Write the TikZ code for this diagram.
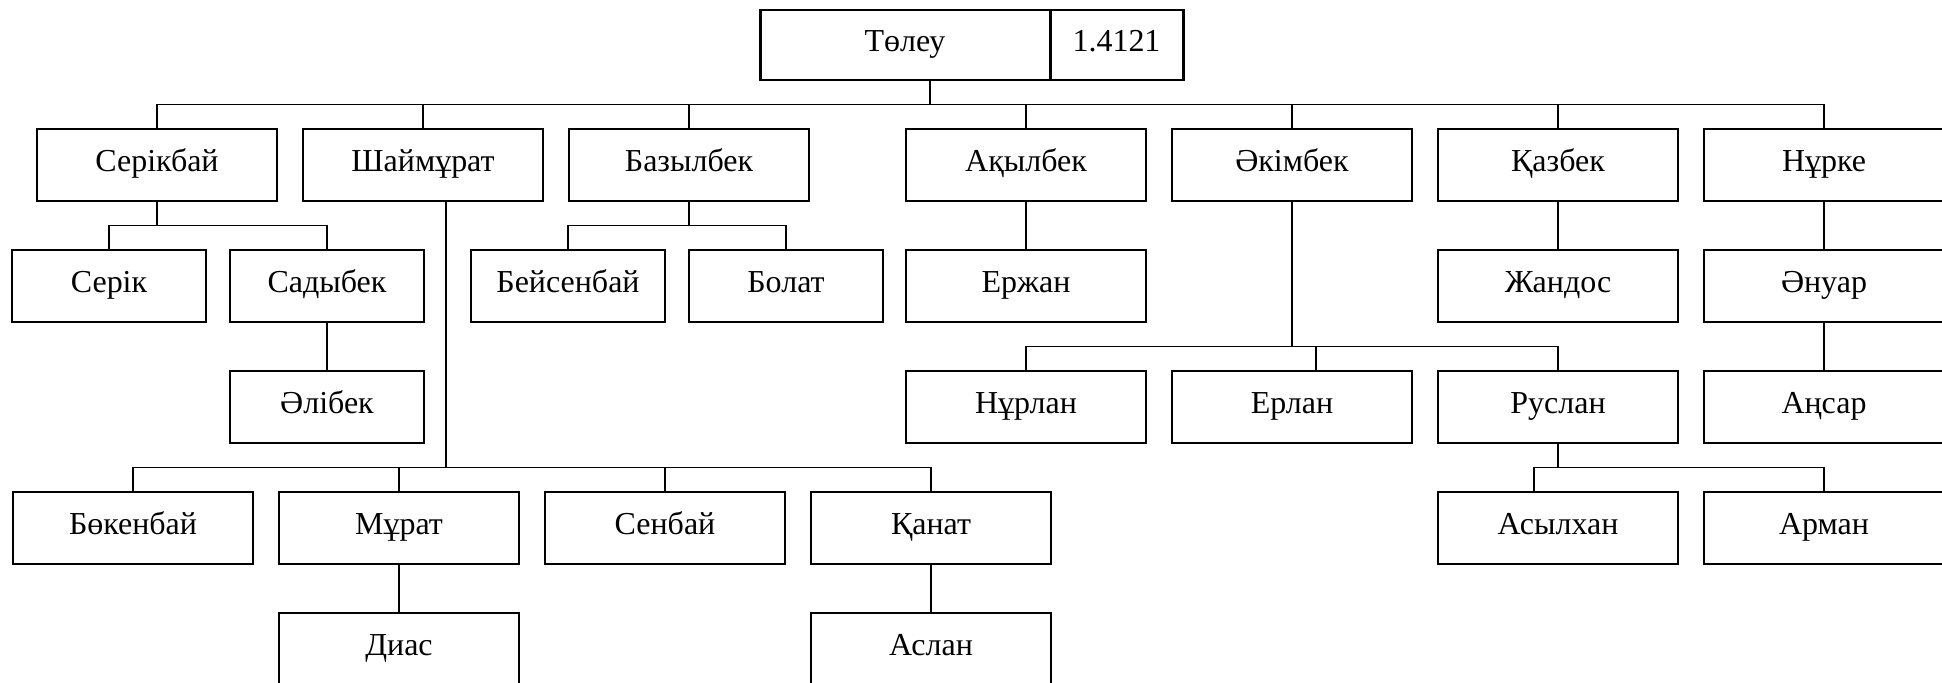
\documentclass[tikz,border=0pt]{standalone}
\usepackage{fontspec}
\setmainfont{Liberation Serif}
\usetikzlibrary{positioning}
\tikzset{
  pbox/.style={rectangle,draw,line width=0.8pt,minimum width=#1,minimum height=1.44cm,
               inner sep=0pt,outer sep=0pt,text height=1.5ex,text depth=0ex,
               font=\fontsize{18.2}{22}\selectfont},
  pbox/.default=4.8cm,
  rbox/.style={rectangle,draw,line width=1.7pt,minimum width=#1,minimum height=1.4cm,
               inner sep=0pt,outer sep=0pt,text height=1.5ex,text depth=0ex,
               font=\fontsize{18.2}{22}\selectfont},
  rbox/.default=5.8cm,
  link/.style={line width=0.8pt},
}

\begin{document}
\begin{tikzpicture}[node distance=0.98cm and 0.52cm]
    \useasboundingbox (0,0) rectangle (38.84,-13.66);

    % root
    \node[rbox] (toleu) at (18.1,-0.9) {Төлеу};
    \node[rbox=2.66cm, right=0pt of toleu] (num) {1.4121};

    % first row
    \node[pbox] (serikbai) at (3.14,-3.3) {Серікбай};
    \node[pbox, right=of serikbai] (shaimurat) {Шаймұрат};
    \node[pbox, right=of shaimurat] (bazylbek) {Базылбек};
    \node[pbox, right=1.94cm of bazylbek] (akylbek) {Ақылбек};
    \node[pbox, right=of akylbek] (akimbek) {Әкімбек};
    \node[pbox, right=of akimbek] (kazbek) {Қазбек};
    \node[pbox, right=of kazbek] (nurke) {Нұрке};

    % second row
    \node[pbox=3.88cm, below=of serikbai, xshift=-0.96cm] (serik) {Серік};
    \node[pbox=3.88cm, right=0.48cm of serik] (sadybek) {Садыбек};
    \node[pbox=3.88cm, below=of bazylbek, xshift=-2.42cm] (beisenbai) {Бейсенбай};
    \node[pbox=3.88cm, right=0.48cm of beisenbai] (bolat) {Болат};
    \node[pbox, below=of akylbek] (erzhan) {Ержан};
    \node[pbox, below=of kazbek] (zhandos) {Жандос};
    \node[pbox, below=of nurke] (anuar) {Әнуар};

    % third row
    \node[pbox=3.88cm, below=of sadybek] (alibek) {Әлібек};
    \node[pbox, below=of erzhan] (nurlan) {Нұрлан};
    \node[pbox, right=of nurlan] (erlan) {Ерлан};
    \node[pbox, right=of erlan] (ruslan) {Руслан};
    \node[pbox, below=of anuar] (ansar) {Аңсар};

    % fourth row
    \node[pbox] (bokenbai) at (2.66,-10.56) {Бөкенбай};
    \node[pbox, right=of bokenbai] (murat) {Мұрат};
    \node[pbox, right=of murat] (senbai) {Сенбай};
    \node[pbox, right=of senbai] (kanat) {Қанат};
    \node[pbox, below=of ruslan] (asylkhan) {Асылхан};
    \node[pbox, below=of ansar] (arman) {Арман};

    % fifth row
    \node[pbox, below=of murat] (dias) {Диас};
    \node[pbox, below=of kanat] (aslan) {Аслан};

    % links
    \draw[link] ([xshift=0.5cm]toleu.south) |- ([yshift=0.49cm]serikbai.north) -- (serikbai.north);
    \draw[link] ([xshift=0.5cm]toleu.south) |- ([yshift=0.49cm]shaimurat.north) -- (shaimurat.north);
    \draw[link] ([xshift=0.5cm]toleu.south) |- ([yshift=0.49cm]bazylbek.north) -- (bazylbek.north);
    \draw[link] ([xshift=0.5cm]toleu.south) |- ([yshift=0.49cm]akylbek.north) -- (akylbek.north);
    \draw[link] ([xshift=0.5cm]toleu.south) |- ([yshift=0.49cm]akimbek.north) -- (akimbek.north);
    \draw[link] ([xshift=0.5cm]toleu.south) |- ([yshift=0.49cm]kazbek.north) -- (kazbek.north);
    \draw[link] ([xshift=0.5cm]toleu.south) |- ([yshift=0.49cm]nurke.north) -- (nurke.north);

    \draw[link] (serikbai.south) |- ([yshift=0.49cm]serik.north) -- (serik.north);
    \draw[link] (serikbai.south) |- ([yshift=0.49cm]sadybek.north) -- (sadybek.north);
    \draw[link] (sadybek) -- (alibek);
    \draw[link] (bazylbek.south) |- ([yshift=0.49cm]beisenbai.north) -- (beisenbai.north);
    \draw[link] (bazylbek.south) |- ([yshift=0.49cm]bolat.north) -- (bolat.north);
    \draw[link] (akylbek) -- (erzhan);
    \draw[link] (kazbek) -- (zhandos);
    \draw[link] (nurke) -- (anuar);
    \draw[link] (anuar) -- (ansar);

    \draw[link] (akimbek.south) |- ([yshift=0.49cm]nurlan.north) -- (nurlan.north);
    \draw[link] (akimbek.south) |- ([xshift=0.48cm,yshift=0.49cm]erlan.north) -- ([xshift=0.48cm]erlan.north);
    \draw[link] (akimbek.south) |- ([yshift=0.49cm]ruslan.north) -- (ruslan.north);
    \draw[link] (ruslan.south) |- ([xshift=-0.48cm,yshift=0.49cm]asylkhan.north) -- ([xshift=-0.48cm]asylkhan.north);
    \draw[link] (ruslan.south) |- ([yshift=0.49cm]arman.north) -- (arman.north);

    \draw[link] ([xshift=0.46cm]shaimurat.south) |- ([yshift=0.49cm]bokenbai.north) -- (bokenbai.north);
    \draw[link] ([xshift=0.46cm]shaimurat.south) |- ([yshift=0.49cm]murat.north) -- (murat.north);
    \draw[link] ([xshift=0.46cm]shaimurat.south) |- ([yshift=0.49cm]senbai.north) -- (senbai.north);
    \draw[link] ([xshift=0.46cm]shaimurat.south) |- ([yshift=0.49cm]kanat.north) -- (kanat.north);
    \draw[link] (murat) -- (dias);
    \draw[link] (kanat) -- (aslan);
\end{tikzpicture}
\end{document}
